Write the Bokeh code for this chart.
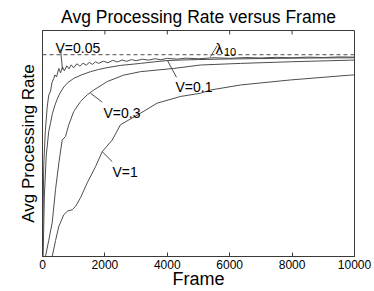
from bokeh.plotting import figure
from bokeh.models import Label, Arrow, LinearAxis, FixedTicker, Range1d, Span
from bokeh.embed import file_html
from bokeh.resources import INLINE

# ---- data ----
frames_v005 = [0, 40, 90, 150, 200, 260, 300, 362, 400, 450, 523, 580, 640, 700, 780, 850, 920,
               1000, 1100, 1200, 1300, 1400, 1500, 1600, 1700, 1800, 1950, 2100, 2250, 2400, 2550,
               2700, 2850, 3000, 3200, 3400, 3600, 3800, 4000, 4300, 4600, 5000, 5500, 6000, 6500,
               7000, 7500, 8000, 8500, 9000, 9500, 10000]
rate_v005 = [0.0, 0.45, 0.62, 0.74, 0.80, 0.82, 0.86, 0.883, 0.90, 0.89, 0.932, 0.91, 0.94, 0.92,
             0.945, 0.93, 0.95, 0.935, 0.955, 0.943, 0.958, 0.948, 0.962, 0.952, 0.965, 0.957,
             0.968, 0.96, 0.972, 0.964, 0.974, 0.967, 0.976, 0.97, 0.978, 0.973, 0.98, 0.975, 0.982,
             0.978, 0.983, 0.98, 0.985, 0.982, 0.986, 0.984, 0.987, 0.985, 0.988, 0.986, 0.989, 0.988]

frames_v01 = [20, 60, 120, 200, 256, 320, 400, 471, 560, 683, 800, 1003, 1250, 1538, 1800, 2074,
              2500, 3141, 3600, 3996, 4500, 5000, 6000, 7000, 8000, 9000, 10000]
rate_v01 = [0.0, 0.30, 0.50, 0.62, 0.66, 0.71, 0.75, 0.78, 0.81, 0.84, 0.86, 0.883, 0.90, 0.916,
            0.927, 0.936, 0.947, 0.957, 0.965, 0.971, 0.974, 0.976, 0.979, 0.981, 0.983, 0.984, 0.985]

frames_v03 = [96, 200, 311, 417, 530, 631, 737, 843, 1003, 1218, 1433, 1644, 2074, 2606, 3141,
              4208, 5064, 6346, 7949, 9872, 10000]
rate_v03 = [0.0, 0.08, 0.168, 0.331, 0.47, 0.577, 0.595, 0.653, 0.719, 0.768, 0.801, 0.825, 0.867,
            0.899, 0.916, 0.932, 0.949, 0.957, 0.965, 0.973, 0.973]

frames_v1 = [311, 420, 522, 683, 800, 952, 1058, 1218, 1433, 1699, 1913, 2234, 2500, 3141, 3676,
             4423, 5064, 5385, 6346, 7949, 9872, 10000]
rate_v1 = [0.0, 0.08, 0.149, 0.207, 0.225, 0.232, 0.248, 0.291, 0.365, 0.445, 0.519, 0.577, 0.653,
           0.710, 0.760, 0.793, 0.809, 0.825, 0.850, 0.875, 0.899, 0.90]

lambda_10 = 1.0
x_ticks = [0, 2000, 4000, 6000, 8000, 10000]
series_labels = ["V=0.05", "V=0.1", "V=0.3", "V=1"]
title_text = "Avg Processing Rate versus Frame"
x_label = "Frame"
y_label = "Avg Processing Rate"

# ---- geometry ----
W, H = 374, 291
X0, X1 = 0, 10000
Y0, Y1 = 0.0, 1.12
FL, FR, FT, FB = 42, 354, 30, 257   # plot frame, page pixels


def dx(px):
    return X0 + (px - FL) / (FR - FL) * (X1 - X0)


def dy(py):
    return Y0 + (FB - py) / (FB - FT) * (Y1 - Y0)


FONT = "Liberation Sans"
LC = "#4d4d4d"
AX = "#3a3a3a"

p = figure(width=W, height=H, output_backend="svg", toolbar_location=None,
           x_range=Range1d(X0, X1), y_range=Range1d(Y0, Y1),
           min_border_left=FL, min_border_right=W - FR,
           min_border_top=FT, min_border_bottom=H - FB,
           x_axis_location=None, y_axis_location=None,
           title=title_text)
p.title.align = "center"
p.title.text_font = FONT
p.title.text_font_size = "17.5px"
p.title.text_font_style = "normal"
p.title.text_color = "black"
p.title.standoff = 7
p.grid.visible = False
p.outline_line_color = AX
p.outline_line_width = 1
p.background_fill_color = "white"
p.border_fill_color = "white"

xa = LinearAxis(ticker=FixedTicker(ticks=x_ticks), axis_label=x_label)
xa.major_tick_in = 4
xa.major_tick_out = 0
xa.minor_tick_line_color = None
xa.axis_line_color = AX
xa.major_tick_line_color = AX
xa.major_label_text_font = FONT
xa.major_label_text_font_size = "12px"
xa.major_label_text_color = "black"
xa.major_label_standoff = 3
xa.axis_label_text_font = FONT
xa.axis_label_text_font_size = "18px"
xa.axis_label_text_font_style = "normal"
xa.axis_label_text_color = "black"
xa.axis_label_standoff = -3
p.add_layout(xa, "below")

ya = LinearAxis(ticker=FixedTicker(ticks=[]), axis_label=y_label)
ya.axis_line_color = AX
ya.major_tick_line_color = None
ya.minor_tick_line_color = None
ya.major_label_standoff = 0
ya.axis_label_text_font = FONT
ya.axis_label_text_font_size = "17px"
ya.axis_label_text_font_style = "normal"
ya.axis_label_text_color = "black"
ya.axis_label_standoff = 5
p.add_layout(ya, "left")

# inward ticks on the top edge of the box
tick_len = 4 / (FB - FT) * (Y1 - Y0)
p.segment(x0=x_ticks, y0=[Y1] * len(x_ticks), x1=x_ticks, y1=[Y1 - tick_len] * len(x_ticks),
          line_color=AX, line_width=1)

p.add_layout(Span(location=lambda_10, dimension="width", line_color=LC,
                  line_dash="4 3", line_width=1))

for fx, ry in [(frames_v1, rate_v1), (frames_v03, rate_v03), (frames_v01, rate_v01),
               (frames_v005, rate_v005)]:
    p.line(fx, ry, line_color=LC, line_width=1)


def lab(text, px, py, size="14px"):
    p.add_layout(Label(x=dx(px), y=dy(py), text=text, text_font=FONT, text_font_size=size,
                       text_align="left", text_baseline="alphabetic", text_color="black"))


def leader(px0, py0, px1, py1):
    p.add_layout(Arrow(end=None, x_start=dx(px0), y_start=dy(py0), x_end=dx(px1), y_end=dy(py1),
                       line_color=LC, line_width=1))


lab(series_labels[0], 55, 48)
lab(series_labels[1], 175, 87)
lab(series_labels[2], 103, 113)
lab(series_labels[3], 112, 172)
lab("λ", 215, 48, size="15px")
lab("10", 223.5, 52, size="11px")

leader(60, 49, 62, 69)
leader(166.7, 59.7, 176, 77)
leader(90, 93, 101.7, 102)
leader(101.7, 151.7, 111.7, 161.7)
leader(210, 56.3, 216.7, 45.3)

open("out.html", "w").write(file_html(p, INLINE))
